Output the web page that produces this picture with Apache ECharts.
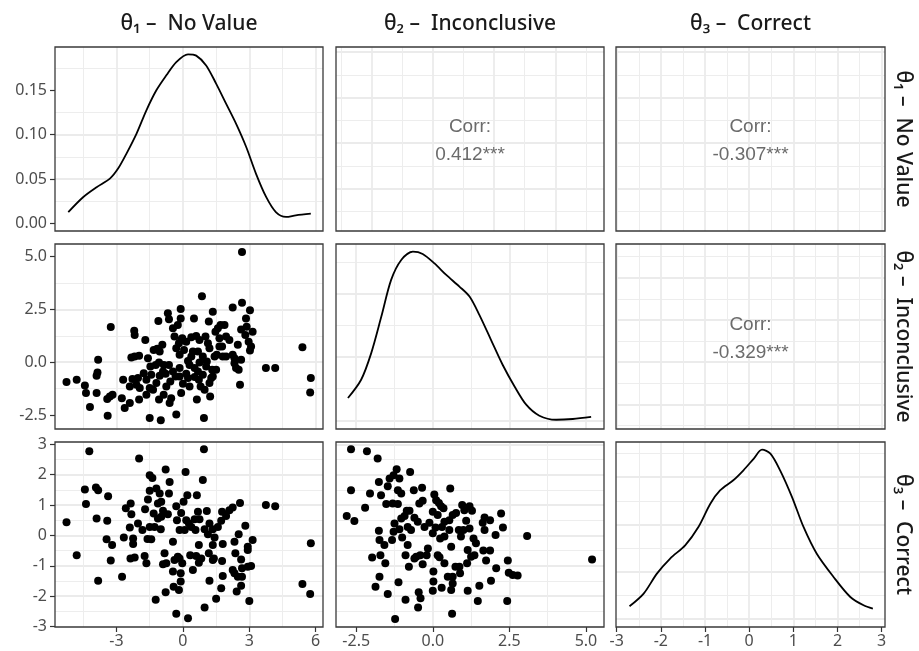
<!DOCTYPE html>
<html><head><meta charset="utf-8">
<script src="https://cdn.jsdelivr.net/npm/echarts@6/dist/echarts.min.js"></script>
<style>html,body{margin:0;padding:0;background:#fff}#c{width:919px;height:651px}</style>
</head><body><div id="c"></div><script>
// ---------------- data ----------------
const variableLabels = ['θ₁ –  No Value', 'θ₂ –  Inconclusive', 'θ₃ –  Correct'];
const corrValues = [['0.412***', 0, 1], ['-0.307***', 0, 2], ['-0.329***', 1, 2]];
const theta1Breaks = [-3, 0, 3, 6];
const theta2Breaks = [-2.5, 0, 2.5, 5];
const theta3Breaks = [-3, -2, -1, 0, 1, 2, 3];
const density1Breaks = [0, 0.05, 0.10, 0.15];

const density1 = [[-5.18,0.013],[-4.5,0.030],[-3.9,0.041],[-3.3,0.0506],[-2.93,0.0619],[-2.55,0.0788],[-2.1,0.101],[-1.65,0.1275],[-1.2,0.15],[-0.75,0.1668],[-0.3,0.1818],[0.23,0.1905],[0.6,0.189],[1.05,0.178],[1.5,0.1575],[1.95,0.135],[2.4,0.1125],[2.86,0.0862],[3.3,0.0563],[3.76,0.030],[4.2,0.013],[4.66,0.0075],[5.1,0.0093],[5.78,0.0112]];
const density2 = [[-2.77,0.0353],[-2.34,0.0642],[-2.01,0.1063],[-1.68,0.164],[-1.36,0.222],[-1.03,0.2535],[-0.65,0.2666],[-0.33,0.263],[0.055,0.248],[0.44,0.2298],[0.87,0.2114],[1.2,0.1956],[1.52,0.1667],[1.9,0.1273],[2.28,0.0879],[2.67,0.0536],[3.05,0.0248],[3.48,0.0074],[4.03,0.001],[4.57,0.0022],[5.17,0.0054]];
const density3 = [[-2.71,0.0269],[-2.39,0.0537],[-2.09,0.096],[-1.79,0.128],[-1.45,0.156],[-1.15,0.1947],[-0.88,0.244],[-0.66,0.272],[-0.36,0.2935],[-0.13,0.3146],[0.1,0.339],[0.29,0.3584],[0.48,0.35],[0.7,0.3146],[0.97,0.258],[1.23,0.1947],[1.53,0.138],[1.91,0.0889],[2.29,0.0466],[2.59,0.029],[2.8,0.022]];

// theta1 vs theta2
const scatter21 = [[-5.26,-0.94],[-4.8,-0.83],[-4.43,-1.1],[-4.38,-1.46],[-4.2,-2.12],[-3.9,-1.46],[-3.86,-0.49],[-3.83,0.11],[-3.9,-0.64],[-3.42,-1.74],[-3.3,-1.62],[-3.18,-1.54],[-3.4,-2.53],[-3.26,1.66],[-2.76,-1.7],[-2.63,-2.17],[-2.7,-0.83],[-2.4,-1.93],[-2.33,0.22],[-2.18,0.27],[-1.98,0.3],[-2.2,1.49],[-2.18,1.29],[-2.4,-1.15],[-2.28,-0.8],[-2.1,-1.07],[-1.98,-1.77],[-1.7,1.05],[-1.58,0.19],[-1.77,-0.52],[-1.65,-0.83],[-1.65,-1.54],[-1.5,-2.64],[-1.5,-1.22],[-1.43,-0.6],[-1.35,-1.3],[-1.23,-0.13],[-1.2,-0.99],[-1.11,1.95],[-1.16,0.63],[-1.05,0.5],[-1.0,-2.75],[-1.08,-1.77],[-0.93,0.82],[-0.9,-0.44],[-0.86,-0.13],[-0.78,-0.55],[-0.75,-1.15],[-0.68,2.31],[-0.63,2.03],[-0.6,-1.93],[-0.53,-1.7],[-0.45,1.6],[-0.45,-0.44],[-0.3,-2.48],[-0.38,1.21],[-0.3,0.66],[-0.18,0.89],[-0.15,0.35],[-0.15,-0.28],[-0.15,-0.68],[-0.1,2.51],[-0.1,2.07],[-0.08,1.05],[-0.03,1.13],[0.0,-1.02],[0.05,0.58],[0.15,-0.55],[0.23,0.06],[0.3,-0.13],[0.38,1.18],[0.3,-1.15],[0.45,0.5],[0.5,2.07],[0.53,-0.28],[0.6,1.24],[0.63,-1.77],[0.68,-0.44],[0.72,-0.83],[0.75,-0.02],[0.8,-1.15],[0.86,3.12],[0.9,-0.6],[0.95,-2.64],[0.98,-1.3],[1.02,1.21],[1.05,-0.2],[1.13,0.89],[1.17,1.92],[1.2,-0.99],[1.2,0.66],[1.23,-1.62],[1.32,-0.36],[1.35,2.39],[1.43,0.27],[1.47,1.44],[1.53,0.35],[1.58,1.6],[1.65,1.13],[1.7,1.76],[1.77,0.74],[1.8,0.27],[1.88,1.76],[1.95,1.21],[2.1,1.05],[2.25,2.59],[2.25,0.35],[2.33,0.19],[2.4,-0.28],[2.48,0.82],[2.52,-0.36],[2.58,-1.07],[2.63,0.11],[2.67,5.21],[2.67,2.81],[2.63,1.55],[2.82,1.29],[2.85,2.07],[2.88,1.68],[2.97,0.97],[3.03,2.46],[3.08,0.74],[3.03,0.55],[3.15,1.44],[3.75,-0.28],[4.17,-0.28],[5.4,0.71],[5.78,-0.75],[5.75,-1.43],[-1.32,0.58],[-1.47,-0.2],[-1.08,-0.02],[-0.57,-0.91],[-0.33,-0.68],[0.23,-0.75],[0.38,0.27],[0.68,0.5],[0.9,0.27],[1.08,0.03],[1.35,-0.68],[1.5,-0.36],[1.65,0.74],[1.95,0.27],[2.33,-0.05],[0.75,1.05],[-0.23,1.76],[-1.95,-1.22],[-2.03,-0.75],[0.15,0.97],[0.53,-0.7],[-0.08,-1.46],[1.28,-0.75],[-1.05,-0.64],[-0.87,-1.54],[-0.63,-0.13]];

// theta1 vs theta3
const scatter31 = [[-5.26,0.43],[-4.8,-0.65],[-4.23,2.77],[-4.43,1.51],[-4.38,1.03],[-3.93,1.58],[-3.83,1.49],[-3.9,0.56],[-3.83,-1.49],[-3.38,1.29],[-3.42,0.48],[-3.45,-0.13],[-3.2,-0.32],[-3.26,-0.83],[-2.75,-1.36],[-2.67,-0.07],[-2.58,0.89],[-2.36,1.05],[-2.33,0.7],[-2.4,0.26],[-2.25,-0.1],[-2.25,-0.28],[-2.37,-0.76],[-2.18,-0.73],[-1.98,2.53],[-2.03,0.39],[-1.83,0.18],[-1.73,-0.68],[-1.65,-0.92],[-1.71,0.86],[-1.58,1.18],[-1.5,1.98],[-1.5,1.47],[-1.38,1.89],[-1.23,-2.12],[-1.6,-0.12],[-1.43,-0.13],[-1.32,0.72],[-1.2,1.54],[-1.13,1.05],[-1.05,1.38],[-0.98,1.11],[-1.28,0.28],[-1.13,0.56],[-1.0,0.2],[-0.9,0.81],[-0.78,2.17],[-0.6,1.76],[-0.63,1.38],[-0.83,-0.59],[-0.9,-0.95],[-0.75,-0.92],[-0.78,-1.87],[-0.68,0.7],[-0.45,-0.21],[-0.42,-1.69],[-0.3,0.96],[-0.27,0.5],[-0.23,-0.7],[-0.18,-1.8],[-0.3,-2.58],[-0.08,0.74],[-0.15,0.18],[-0.1,-1.25],[-0.1,-1.52],[-0.03,-0.92],[-0.15,-0.76],[0.12,2.09],[0.03,1.11],[0.15,0.5],[0.2,1.32],[0.27,0.39],[0.23,-2.73],[0.38,0.28],[0.45,-1.14],[0.53,0.53],[0.63,1.32],[0.68,0.78],[0.72,-0.32],[0.6,-0.68],[0.83,-0.76],[0.9,1.82],[0.95,2.84],[0.98,-2.37],[0.75,0.53],[1.08,0.8],[0.98,0.2],[1.13,0.04],[1.17,-0.59],[1.2,-1.49],[1.35,0.2],[1.43,-0.07],[1.35,-0.32],[1.4,-0.76],[1.5,-2.09],[1.58,0.28],[1.73,0.48],[1.77,0.78],[1.77,-0.84],[1.8,-1.34],[1.73,-1.74],[1.8,-0.28],[1.95,0.64],[2.1,0.83],[2.25,0.92],[2.58,1.07],[2.33,-0.21],[2.37,-0.59],[2.33,-1.25],[2.43,-1.85],[2.52,0.04],[2.63,-0.79],[2.67,-1.08],[2.67,-1.36],[2.63,-1.66],[2.82,0.32],[2.93,-0.48],[2.93,-1.03],[3.0,-2.16],[3.08,-1.01],[3.15,-0.15],[2.93,-0.37],[3.75,1.0],[4.17,0.96],[5.4,-1.6],[5.78,-0.26],[5.75,-1.93],[2.48,-1.36],[-0.45,-1.19],[1.35,-0.81],[0.08,0.18],[0.57,0.18],[0.72,-0.9],[-0.38,-0.81],[-0.98,0.61],[-1.5,0.28],[1.2,0.39],[2.25,-1.14],[0.33,-0.65]];

// theta2 vs theta3
const scatter32 = [[-2.67,2.84],[-2.15,2.77],[-1.8,2.53],[-2.67,1.49],[-2.81,0.64],[-2.56,0.47],[-2.21,0.91],[-2.05,1.38],[-1.76,1.76],[-1.69,1.32],[-1.52,1.03],[-1.47,1.62],[-1.41,1.87],[-1.28,1.98],[-1.18,2.18],[-1.09,1.87],[-1.14,1.49],[-1.03,1.38],[-1.31,1.05],[-1.14,1.03],[-0.74,2.09],[-0.62,1.49],[-0.35,1.57],[-0.44,1.05],[-0.33,1.14],[-0.85,0.81],[-0.76,0.81],[-0.92,0.64],[-1.25,0.39],[-1.28,0.12],[-1.09,0.2],[-0.82,0.28],[-0.71,0.18],[-0.6,0.58],[-0.49,0.45],[-1.76,0.15],[-1.74,-0.15],[-1.58,-0.32],[-1.33,-0.15],[-1.0,-0.07],[-0.82,-0.32],[-0.89,-0.65],[-1.98,-0.73],[-1.71,-0.65],[-1.55,-0.92],[-1.74,-1.36],[-1.87,-1.69],[-1.12,-1.54],[-1.47,-1.93],[-0.89,-2.12],[-1.23,-2.75],[-0.46,-1.87],[-0.4,-2.07],[-0.48,-2.37],[-0.54,-0.7],[-0.41,-0.65],[-0.33,-0.95],[-0.6,-0.76],[-0.16,-0.43],[0.0,0.07],[0.05,1.35],[0.11,1.16],[0.2,1.07],[0.27,0.96],[0.35,0.89],[0.0,0.78],[0.16,0.67],[0.09,0.26],[0.3,0.28],[0.24,-0.1],[0.38,-0.04],[0.16,-0.65],[0.22,-0.72],[0.38,-0.92],[0.02,-1.19],[0.02,-1.52],[0.0,-1.82],[0.29,-1.72],[0.57,1.54],[0.54,0.5],[0.65,0.67],[0.54,0.18],[0.6,-0.37],[0.74,-1.03],[0.65,-1.36],[0.65,-1.58],[0.6,-1.8],[0.63,-2.58],[0.76,0.74],[0.85,0.18],[0.92,-0.04],[0.89,-1.25],[0.96,1.0],[1.03,0.83],[1.0,0.18],[1.09,0.48],[1.2,0.96],[1.28,0.81],[1.14,-0.48],[1.25,-0.7],[1.12,-0.92],[1.14,-1.82],[1.2,0.23],[1.33,-0.1],[1.41,-0.26],[1.36,-0.65],[1.52,-1.66],[1.47,-2.16],[1.63,0.42],[1.69,0.59],[1.65,-0.5],[1.74,-0.83],[1.87,-0.5],[1.87,0.5],[2.05,0.01],[2.07,-1.08],[1.9,-1.49],[2.23,0.72],[2.29,0.26],[2.45,-0.83],[2.43,-2.16],[2.48,-1.23],[2.61,-1.3],[2.77,-1.32],[3.08,-0.02],[5.2,-0.79],[0.38,0.45],[-0.11,0.42],[1.69,0.18],[-0.78,-1.03],[-0.2,-0.65],[0.87,-1.03],[-0.27,0.28],[-1.03,0.56],[0.49,-1.36]];

// ---------------- layout & scales ----------------
const colLeft = [55, 336, 616], colWidth = [268, 268, 269];
const rowTop = [47, 244, 442], rowHeight = [184, 185, 185];

const S = {
  t1: {min:-5.78, max:6.33, step:3, breaks:theta1Breaks, fmt:v=>String(v)},
  t2: {min:-3.16, max:5.59, step:2.5, breaks:theta2Breaks, fmt:v=>v.toFixed(1)},
  t3: {min:-3.016, max:3.075, step:1, breaks:theta3Breaks, fmt:v=>String(v)},
  t2u:{min:-3.16, max:5.59, step:2},
  d1: {min:-0.0083, max:0.1987, step:0.05, breaks:density1Breaks, fmt:v=>v.toFixed(2)},
  d2: {min:-0.0136, max:0.2787, step:0.1},
  d3: {min:-0.0169, max:0.3745, step:0.1}
};
const panelScales = [
  ['t1','d1'], ['t2u','t1'], ['t3','t1'],
  ['t1','t2'], ['t2','d2'], ['t3','t2u'],
  ['t1','t3'], ['t2','t3'], ['t3','d3']
];

const grids = [], xAxes = [], yAxes = [], graphics = [];
function makeAxis(key, gi, isX, labeled) {
  const s = S[key];
  const a = {
    type:'value', gridIndex:gi, min:s.min, max:s.max,
    minInterval:s.step, maxInterval:s.step,
    position: isX ? 'bottom' : 'left',
    axisLine:{show:false, onZero:false},
    axisTick:{show:labeled, length:5, lineStyle:{color:'#333', width:1.2}},
    axisLabel:{show:labeled, color:'#4d4d4d', fontSize:16, fontFamily:'Noto Sans',
      margin: isX ? 6 : 8,
      formatter: v => s.fmt ? s.fmt(v) : String(v)},
    splitLine:{show:true, showMinLine:false, showMaxLine:false, lineStyle:{color:'#ebebeb', width:1.8}},
    minorTick:{show:false, splitNumber:2},
    minorSplitLine:{show:true, lineStyle:{color:'#ededed', width:1}}
  };
  if (labeled && s.breaks) {
    a.axisTick.customValues = s.breaks;
    a.axisLabel.customValues = s.breaks;
  }
  return a;
}
for (let r = 0; r < 3; r++) {
  for (let c = 0; c < 3; c++) {
    const gi = r * 3 + c;
    grids.push({left:colLeft[c], top:rowTop[r], width:colWidth[c], height:rowHeight[r],
      show:true, backgroundColor:'#fff', borderWidth:0});
    xAxes.push(makeAxis(panelScales[gi][0], gi, true, r === 2));
    yAxes.push(makeAxis(panelScales[gi][1], gi, false, c === 0));
    graphics.push({type:'rect', z:100, silent:true,
      shape:{x:colLeft[c], y:rowTop[r], width:colWidth[c], height:rowHeight[r]},
      style:{fill:'none', stroke:'#3a3a3a', lineWidth:1.3}});
  }
}
// strip labels
for (let i = 0; i < 3; i++) {
  graphics.push({type:'text', z:100, x: colLeft[i] + colWidth[i]/2, y: 24,
    style:{text:variableLabels[i], fill:'#1a1a1a', font:'500 21px "Noto Sans"', align:'center', verticalAlign:'middle'}});
  graphics.push({type:'text', z:100, x: 903, y: rowTop[i] + rowHeight[i]/2, rotation:-Math.PI/2,
    style:{text:variableLabels[i], fill:'#1a1a1a', font:'500 21px "Noto Sans"', align:'center', verticalAlign:'middle'}});
}
// correlation text
corrValues.forEach(([txt, r, c]) => {
  graphics.push({type:'text', z:100, x: colLeft[c] + colWidth[c]/2, y: rowTop[r] + rowHeight[r]/2 + 2,
    style:{text:'Corr:\n' + txt, fill:'#6b6b6b', font:'19px "Liberation Sans"', lineHeight:28, align:'center', verticalAlign:'middle'}});
});

const lineStyle = {color:'#000', width:1.8};
const dotStyle = {color:'#000', opacity:1};
const series = [
  {type:'line', xAxisIndex:0, yAxisIndex:0, data:density1, showSymbol:false, smooth:0.3, lineStyle, silent:true},
  {type:'line', xAxisIndex:4, yAxisIndex:4, data:density2, showSymbol:false, smooth:0.3, lineStyle, silent:true},
  {type:'line', xAxisIndex:8, yAxisIndex:8, data:density3, showSymbol:false, smooth:0.3, lineStyle, silent:true},
  {type:'scatter', xAxisIndex:3, yAxisIndex:3, data:scatter21, symbolSize:8, itemStyle:dotStyle, silent:true},
  {type:'scatter', xAxisIndex:6, yAxisIndex:6, data:scatter31, symbolSize:8, itemStyle:dotStyle, silent:true},
  {type:'scatter', xAxisIndex:7, yAxisIndex:7, data:scatter32, symbolSize:8, itemStyle:dotStyle, silent:true}
];

const chart = echarts.init(document.getElementById('c'), null, {renderer:'canvas'});
chart.setOption({
  animation:false, backgroundColor:'#fff',
  grid:grids, xAxis:xAxes, yAxis:yAxes, series:series, graphic:graphics
});
</script></body></html>
